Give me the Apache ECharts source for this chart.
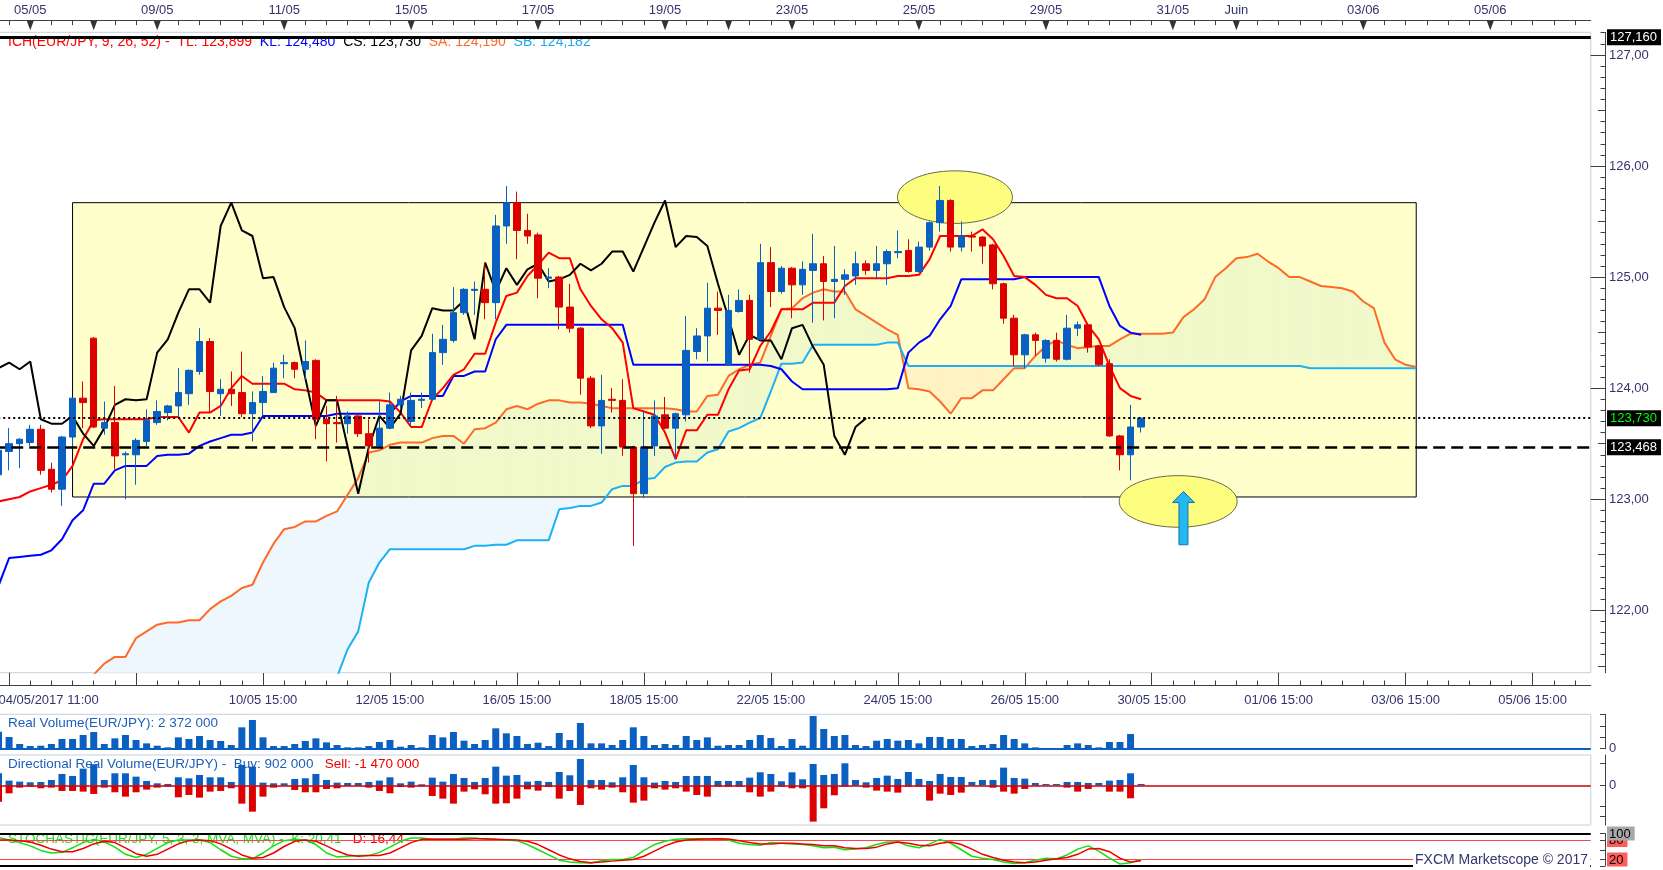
<!DOCTYPE html>
<html><head><meta charset="utf-8">
<script src="https://cdn.jsdelivr.net/npm/echarts@6/dist/echarts.min.js"></script>
<style>html,body{margin:0;padding:0;background:#fff}#c{width:1663px;height:870px}</style>
</head><body><div id="c"></div><script>
// ---------------- DATA ----------------
const opens = [123.22,123.43,123.50,123.51,123.63,123.27,123.09,123.56,123.91,124.45,
 123.64,123.69,123.40,123.40,123.52,123.69,123.78,123.84,123.95,124.15,
 124.42,123.95,123.99,123.96,123.77,123.87,123.96,124.22,124.23,124.17,
 124.25,123.72,123.69,123.68,123.75,123.59,123.48,123.64,123.85,123.70,
 123.89,123.90,124.32,124.43,124.68,124.88,124.89,124.77,125.46,125.67,
 125.42,125.38,124.99,125.00,124.73,124.54,124.09,123.66,123.90,123.89,
 123.47,123.05,123.48,123.76,123.64,123.76,124.33,124.47,124.72,124.21,
 124.69,124.79,124.44,125.13,124.87,125.08,124.93,125.06,125.12,124.96,
 124.98,125.01,125.12,125.06,125.12,125.22,125.24,125.05,125.27,125.49,
 125.69,125.27,125.37,125.36,125.29,124.94,124.63,124.30,124.48,124.27,
 124.43,124.26,124.54,124.57,124.38,124.22,123.57,123.40,123.65];
const closes = [123.44,123.50,123.54,123.63,123.26,123.09,123.56,123.91,123.87,123.65,
 123.69,123.39,123.41,123.53,123.71,123.79,123.84,123.96,124.16,124.42,
 123.97,123.99,123.95,123.77,123.87,123.97,124.18,124.23,124.17,124.24,
 123.72,123.68,123.68,123.75,123.59,123.48,123.64,123.85,123.90,123.89,
 123.90,124.32,124.44,124.68,124.89,124.89,124.77,125.46,125.67,125.42,
 125.37,124.99,125.00,124.73,124.54,124.09,123.66,123.89,123.89,123.47,
 123.05,123.47,123.75,123.64,123.77,124.34,124.47,124.72,124.70,124.70,
 124.79,124.44,125.13,124.87,125.08,124.93,125.07,125.12,124.96,124.98,
 125.02,125.12,125.06,125.12,125.23,125.23,125.05,125.27,125.49,125.69,
 125.27,125.37,125.36,125.28,124.94,124.63,124.30,124.48,124.43,124.43,
 124.26,124.54,124.57,124.37,124.21,123.57,123.40,123.65,123.73];
const lows = [123.21,123.26,123.28,123.48,123.22,123.06,122.94,123.48,123.64,123.64,
 123.58,123.27,123.00,123.13,123.48,123.67,123.71,123.74,123.85,124.12,
 123.78,123.75,123.84,123.74,123.52,123.75,123.96,124.09,124.09,124.08,
 123.54,123.34,123.51,123.59,123.56,123.33,123.46,123.63,123.81,123.66,
 123.82,123.89,124.21,124.41,124.66,124.66,124.62,124.62,125.30,125.16,
 125.30,124.81,124.90,124.53,124.50,123.94,123.64,123.41,123.78,123.39,
 122.58,123.01,123.39,123.63,123.36,123.70,124.26,124.24,124.48,124.20,
 124.68,124.14,124.43,124.73,124.85,124.63,124.84,124.59,124.61,124.63,
 124.84,124.93,125.02,124.98,124.93,125.17,125.04,125.04,125.24,125.41,
 125.23,125.23,125.23,125.12,124.89,124.58,124.20,124.18,124.29,124.23,
 124.24,124.25,124.47,124.32,124.20,123.56,123.26,123.17,123.60];
const highs = [123.48,123.64,123.55,123.67,123.67,123.33,123.57,123.92,124.06,124.46,
 123.88,124.02,123.43,123.55,123.81,123.89,123.85,124.18,124.17,124.54,
 124.45,124.08,124.15,124.33,123.97,124.11,124.23,124.30,124.24,124.43,
 124.26,123.84,123.93,123.79,123.77,123.72,123.88,123.96,123.93,123.96,
 123.96,124.49,124.57,124.91,124.90,124.96,125.13,125.56,125.82,125.77,
 125.57,125.40,125.08,125.01,124.94,124.55,124.11,124.12,124.00,124.08,
 123.48,123.79,123.89,123.92,123.78,124.65,124.54,124.95,124.87,124.84,
 124.89,124.84,125.30,125.27,125.10,125.09,125.14,125.39,125.19,125.28,
 125.07,125.23,125.15,125.28,125.25,125.42,125.34,125.32,125.50,125.82,
 125.70,125.50,125.41,125.37,125.30,124.95,124.66,124.49,124.50,124.44,
 124.50,124.66,124.60,124.58,124.39,124.26,123.58,123.85,123.74];
const tenkan = [122.98,123.00,123.02,123.07,123.10,123.13,123.17,123.30,123.54,123.71,
 123.72,123.72,123.72,123.72,123.72,123.74,123.74,123.74,123.60,123.78,
 123.78,123.84,124.00,124.11,124.04,124.04,124.04,124.04,123.99,123.98,
 123.96,123.89,123.89,123.89,123.89,123.89,123.89,123.88,123.78,123.65,
 123.65,123.90,124.00,124.12,124.17,124.31,124.31,124.59,124.83,124.86,
 125.01,125.11,125.22,125.17,125.17,124.89,124.74,124.62,124.54,124.41,
 123.82,123.79,123.76,123.60,123.36,123.62,123.62,123.76,123.76,123.99,
 124.16,124.17,124.38,124.51,124.71,124.71,124.71,124.77,124.77,124.77,
 124.92,124.99,124.99,124.99,124.99,125.01,125.01,125.02,125.16,125.37,
 125.37,125.37,125.37,125.43,125.34,125.19,125.01,125.00,124.93,124.84,
 124.81,124.81,124.74,124.56,124.44,124.20,124.00,123.93,123.90];
const kijun = [122.22,122.47,122.48,122.49,122.50,122.54,122.64,122.81,122.90,123.14,
 123.14,123.26,123.30,123.30,123.30,123.39,123.40,123.40,123.41,123.48,
 123.52,123.55,123.58,123.58,123.60,123.75,123.75,123.75,123.75,123.75,
 123.75,123.75,123.77,123.77,123.77,123.77,123.77,123.77,123.88,123.93,
 123.93,123.93,123.93,124.11,124.11,124.15,124.15,124.44,124.57,124.57,
 124.57,124.57,124.57,124.57,124.57,124.57,124.57,124.57,124.57,124.57,
 124.21,124.21,124.21,124.21,124.21,124.21,124.21,124.21,124.21,124.21,
 124.21,124.21,124.21,124.20,124.17,124.06,123.99,123.99,123.99,123.99,
 123.99,123.99,123.99,123.99,123.99,124.00,124.32,124.41,124.47,124.62,
 124.74,124.98,124.98,124.98,124.98,124.98,124.98,125.00,125.00,125.00,
 125.00,125.00,125.00,125.00,125.00,124.74,124.56,124.50,124.48];
const senkouA = [null,null,null,null,null,null,null,null,null,121.42,
 121.52,121.58,121.58,121.75,121.81,121.87,121.89,121.89,121.91,121.91,
 122.01,122.08,122.13,122.20,122.23,122.43,122.60,122.73,122.75,122.80,
 122.80,122.85,122.89,123.04,123.19,123.42,123.44,123.49,123.51,123.51,
 123.51,123.55,123.57,123.57,123.50,123.63,123.64,123.69,123.81,123.84,
 123.81,123.86,123.89,123.89,123.87,123.87,123.86,123.84,123.82,123.82,
 123.82,123.82,123.82,123.82,123.81,123.79,123.79,123.93,123.94,124.11,
 124.17,124.21,124.23,124.47,124.71,124.72,124.81,124.86,124.89,124.87,
 124.87,124.71,124.65,124.59,124.53,124.48,124.00,123.99,123.97,123.88,
 123.77,123.91,123.91,123.98,123.98,124.08,124.18,124.18,124.29,124.38,
 124.43,124.39,124.36,124.37,124.38,124.38,124.44,124.49,124.49,124.49,
 124.49,124.50,124.64,124.71,124.80,125.00,125.08,125.17,125.18,125.21,
 125.14,125.08,125.00,125.00,124.96,124.92,124.91,124.90,124.87,124.78,
 124.72,124.41,124.26,124.21,124.19];
const senkouB = [null,null,null,null,null,null,null,null,null,null,
 null,null,null,null,null,null,null,null,null,null,
 null,null,null,null,null,null,null,null,null,null,
 null,121.10,121.40,121.65,121.81,122.25,122.43,122.55,122.55,122.55,
 122.55,122.55,122.55,122.55,122.55,122.58,122.58,122.59,122.59,122.63,
 122.63,122.63,122.63,122.91,122.92,122.94,122.94,122.97,123.09,123.12,
 123.12,123.18,123.19,123.29,123.33,123.34,123.34,123.42,123.45,123.61,
 123.64,123.69,123.73,123.97,124.22,124.22,124.23,124.39,124.39,124.39,
 124.39,124.39,124.39,124.39,124.41,124.41,124.20,124.20,124.20,124.20,
 124.20,124.20,124.20,124.20,124.20,124.20,124.20,124.20,124.20,124.20,
 124.20,124.20,124.20,124.20,124.20,124.20,124.20,124.20,124.20,124.20,
 124.20,124.20,124.20,124.20,124.20,124.20,124.20,124.20,124.20,124.20,
 124.20,124.20,124.20,124.20,124.18,124.18,124.18,124.18,124.18,124.18,
 124.18,124.18,124.18,124.18,124.18];
const volume = [2754,1890,756,432,486,756,1566,1566,2214,2700,
 756,1674,2214,1404,864,486,216,1836,1566,2052,
 1404,1242,594,3456,4644,1836,432,432,756,1242,
 1674,1026,594,216,216,432,1080,1404,324,594,
 216,2214,1836,2700,1296,756,1404,3294,2484,2052,
 756,972,432,2538,1404,4158,864,864,594,1404,
 3456,2052,594,756,594,2052,1404,1836,486,594,
 594,1404,2214,1728,432,1566,486,5292,3186,2052,
 2214,594,432,1296,1566,1296,1404,864,1890,1890,
 1566,1566,432,594,756,2214,1566,864,216,0,
 0,594,864,594,216,1080,1080,2372,0];
const buyVol = [900,350,275,225,250,400,850,700,1250,1575,
 400,900,900,650,325,150,100,600,525,775,
 600,600,250,1525,1400,200,150,150,475,525,
 850,400,200,175,175,250,350,600,150,275,
 75,575,275,850,550,250,550,1400,725,775,
 275,325,250,1000,750,1975,400,400,225,600,
 1525,600,200,325,250,700,700,700,325,325,
 325,575,975,850,300,975,450,1600,775,850,
 1650,400,225,550,725,475,1000,475,325,850,
 625,625,250,400,400,1325,550,500,175,100,
 100,250,250,175,175,350,400,900,100];
const sellVol = [-1225,-600,-175,-100,-225,-175,-425,-425,-475,-650,
 -175,-525,-850,-525,-325,-175,-100,-900,-725,-925,
 -475,-425,-225,-1375,-1975,-850,-175,-25,-350,-525,
 -525,-275,-225,-50,-50,-175,-425,-600,-125,-175,
 -75,-800,-1000,-1375,-475,-300,-675,-1375,-1350,-1000,
 -300,-400,-125,-1000,-425,-1475,-225,-325,-175,-525,
 -1300,-1150,-225,-325,-225,-475,-725,-850,-100,-100,
 -100,-525,-850,-475,-100,-225,-225,-2725,-1725,-750,
 -100,-25,-175,-400,-475,-550,-100,-100,-1150,-625,
 -725,-550,-25,-25,-175,-475,-625,-275,-25,0,
 0,-175,-475,-275,-25,-475,-475,-975,0];
const stochK = [88,80,72,62,48,40,42,56,72,82,
 74,58,36,26,36,54,72,80,80,80,
 72,50,30,22,22,40,62,78,82,80,
 66,40,28,30,32,32,42,58,76,86,
 86,82,82,82,86,86,82,82,80,78,
 66,50,34,18,12,10,9,16,20,20,
 26,48,66,76,82,84,84,84,84,80,
 70,66,64,72,70,68,66,62,56,58,
 50,52,56,66,74,74,62,56,68,82,
 70,50,30,24,20,12,8,10,18,24,
 22,34,52,62,46,24,6,10,20.41];
const stochD = [80,80,78,74,64,52,44,44,54,68,
 76,72,56,38,30,36,52,68,78,80,
 78,68,52,34,24,26,40,60,76,80,
 76,62,46,34,30,32,32,40,56,72,
 82,82,82,82,82,84,84,82,81,80,
 76,66,50,34,22,14,10,12,15,18,
 20,30,46,62,74,80,82,83,84,83,
 78,72,68,68,70,70,68,66,62,62,
 56,54,54,58,68,74,70,64,62,70,
 74,66,52,36,26,18,12,10,12,18,
 22,26,36,52,54,44,24,12,16.44];
const bottomLabels = {0:'04/05/2017 11:00',25:'10/05 15:00',37:'12/05 15:00',49:'16/05 15:00',61:'18/05 15:00',73:'22/05 15:00',85:'24/05 15:00',97:'26/05 15:00',109:'30/05 15:00',121:'01/06 15:00',133:'03/06 15:00',145:'05/06 15:00'};
const topLabels = {3:'05/05',15:'09/05',27:'11/05',39:'15/05',51:'17/05',63:'19/05',75:'23/05',87:'25/05',99:'29/05',111:'31/05',117:'Juin',129:'03/06',141:'05/06'};
const dayMarks = [3,9,15,27,39,51,63,69,75,87,99,111,117,129,141];
const priceTicks = [122,123,124,125,126,127];
const halfTicks = [121.5,122.5,123.5,124.5,125.5,126.5];
const priceTags = [{v:127.16, s:'w'},{v:123.73, s:'g'},{v:123.468, s:'w'}];
const box = {from:7, to:134, low:123.02, high:125.67};
const circles = [{i:90.4, p:125.72, rx:57.5, ry:26.3},{i:111.5, p:122.98, rx:59, ry:25.8}];
const arrowMark = {i:112, tip:123.07, base:122.97, tail:122.59};
const SHIFT = 26;

// ---------------- STYLE / LAYOUT ----------------
const FONT = '"Liberation Sans", Arial, sans-serif';
const AX = '#34346e';
const UP = '#0a5fc2', DOWN = '#dd0000';
const Y_MIN = 121.438, Y_MAX = 127.204;
const NCAT = 151;
const cats = []; for (let i = 0; i < NCAT; i++) cats.push(String(i));
const tenths = []; for (let k = 1215; k <= 1272; k++) tenths.push(k / 10);
const GL = -6.79, GW = 1597.58;

const candleData = opens.map((o, i) => [o, closes[i], lows[i], highs[i]]);
const chikou = closes.slice(SHIFT);

const BULL_CLOUD = '#eef7fd', BEAR_CLOUD = '#fff0f5';
function cloudItem(params, api) {
  const i = api.value(0);
  const a0 = senkouA[i], a1 = senkouA[i + 1];
  if (a0 == null || a1 == null) return null;
  const b0 = senkouB[i] == null ? Y_MIN : senkouB[i];
  const b1 = senkouB[i + 1] == null ? Y_MIN : senkouB[i + 1];
  const pa0 = api.coord([i, a0]), pa1 = api.coord([i + 1, a1]);
  const pb0 = api.coord([i, b0]), pb1 = api.coord([i + 1, b1]);
  const d0 = a0 - b0, d1 = a1 - b1;
  const col = d => d >= 0 ? BULL_CLOUD : BEAR_CLOUD;
  const cs = params.coordSys;
  let children;
  if (d0 * d1 < 0) {
    const t = d0 / (d0 - d1);
    const X = [pa0[0] + (pa1[0] - pa0[0]) * t, pa0[1] + (pa1[1] - pa0[1]) * t];
    children = [
      {type:'polygon', shape:{points:[pa0, X, pb0]}, style:{fill:col(d0), stroke:col(d0), lineWidth:0.6}},
      {type:'polygon', shape:{points:[X, pa1, pb1]}, style:{fill:col(d1), stroke:col(d1), lineWidth:0.6}}
    ];
  } else {
    const c = col(d0 + d1);
    children = [{type:'polygon', shape:{points:[pa0, pa1, pb1, pb0]}, style:{fill:c, stroke:c, lineWidth:0.6}}];
  }
  return {type:'group', children, clipPath:{type:'rect', shape:{x:cs.x, y:cs.y, width:cs.width, height:cs.height}}};
}
const cloudSegs = []; for (let i = 0; i < senkouA.length - 1; i++) cloudSegs.push([i, Y_MIN]);

function hiddenX(g) { return {gridIndex:g, type:'category', data:cats, show:false}; }
function priceY(extra) {
  return Object.assign({gridIndex:0, type:'value', position:'right', offset:14.2, min:Y_MIN, max:Y_MAX,
    splitLine:{show:false}, axisLine:{show:false}, axisLabel:{show:false}, axisTick:{show:false}}, extra);
}
const lbl = {color:AX, fontSize:13, fontFamily:FONT};
const gridBase = {left:GL, width:GW, outerBoundsMode:'none', containLabel:false};

const option = {
  animation:false,
  backgroundColor:'#fff',
  textStyle:{fontFamily:FONT},
  title:[
    {left:8, top:35, padding:0, z:1, text:'{r|ICH(EUR/JPY, 9, 26, 52) -  TL: 123,899}  {b|KL: 124,480}  {k|CS: 123,730}  {o|SA: 124,190}  {c|SB: 124,182}',
     textStyle:{fontSize:14, fontFamily:FONT, fontWeight:'normal', rich:{r:{color:'#ff0000', fontSize:14}, b:{color:'#0000ff', fontSize:14}, k:{color:'#000', fontSize:14}, o:{color:'#ff6a28', fontSize:14}, c:{color:'#1eaaf0', fontSize:14}}}},
    {left:8, top:716, padding:0, z:1, text:'Real Volume(EUR/JPY): 2 372 000', textStyle:{fontSize:13.5, fontFamily:FONT, fontWeight:'normal', color:'#1d5fb8'}},
    {left:8, top:757.5, padding:0, z:1, text:'{b|Directional Real Volume(EUR/JPY) -  Buy: 902 000}   {r|Sell: -1 470 000}',
     textStyle:{fontSize:13.5, fontFamily:FONT, fontWeight:'normal', rich:{b:{color:'#1d5fb8', fontSize:13.5}, r:{color:'#ee0000', fontSize:13.5}}}},
    {left:8, top:832.5, padding:0, z:1, text:'{g|STOCHASTIC(EUR/JPY, 5, 3, 3, MVA, MVA) -  K: 20,41}   {r|D: 16,44}',
     textStyle:{fontSize:13.5, fontFamily:FONT, fontWeight:'normal', rich:{g:{color:'#22dd22', fontSize:13.5}, r:{color:'#ee0000', fontSize:13.5}}}},
    {right:73, top:852, padding:[1,2,1,2], backgroundColor:'#fff', z:10, text:'FXCM Marketscope © 2017', textStyle:{fontSize:14, fontFamily:FONT, fontWeight:'normal', color:AX}}
  ],
  grid:[
    Object.assign({top:32.3, height:640.4, show:true, borderColor:'#c5d0de', borderWidth:1, backgroundColor:'transparent'}, gridBase),
    Object.assign({top:714.3, height:34.4, show:true, borderColor:'#c5d0de', borderWidth:1}, gridBase),
    Object.assign({top:755, height:70, show:true, borderColor:'#c5d0de', borderWidth:1}, gridBase),
    Object.assign({top:833.5, height:32.5, show:false}, gridBase)
  ],
  xAxis:[
    {gridIndex:0, type:'category', data:cats, position:'bottom', offset:12.3,
     axisLine:{show:true, lineStyle:{color:'#404040'}},
     axisTick:{show:true, inside:true, length:12.3, alignWithLabel:true, interval:(i)=> i >= 1 && (i - 1) % 12 === 0, lineStyle:{color:'#404040'}},
     axisLabel:Object.assign({show:true, interval:(i)=> bottomLabels[i] !== undefined, formatter:(v, i)=> bottomLabels[i] || '', margin:9, alignMinLabel:'left'}, lbl),
     splitLine:{show:false}},
    {gridIndex:0, type:'category', data:cats, position:'top', offset:11.6,
     axisLine:{show:true, lineStyle:{color:'#404040'}},
     axisTick:{show:true, inside:true, length:4.5, alignWithLabel:true, interval:(i)=> i % 2 === 1, lineStyle:{color:'#404040'}},
     axisLabel:Object.assign({show:true, interval:(i)=> topLabels[i] !== undefined, formatter:(v, i)=> topLabels[i] || '', margin:4}, lbl),
     splitLine:{show:false}},
    {gridIndex:0, type:'category', data:cats, position:'bottom', offset:12.3,
     axisLine:{show:false}, axisLabel:{show:false}, splitLine:{show:false},
     axisTick:{show:true, inside:true, length:4.5, alignWithLabel:true, interval:(i)=> i % 2 === 1, lineStyle:{color:'#404040'}}},
    hiddenX(1), hiddenX(2), hiddenX(3)
  ],
  yAxis:[
    priceY({axisLine:{show:true, lineStyle:{color:'#404040'}},
      axisTick:{show:true, inside:true, length:14.5, customValues:priceTicks, lineStyle:{color:'#404040'}},
      axisLabel:Object.assign({show:true, customValues:priceTicks, formatter:v=> v.toFixed(2).replace('.', ','), margin:4}, lbl)}),
    priceY({axisTick:{show:true, inside:true, length:7, customValues:halfTicks, lineStyle:{color:'#404040'}}}),
    priceY({axisTick:{show:true, inside:true, length:4.5, customValues:tenths, lineStyle:{color:'#404040'}}}),
    priceY({axisLabel:{show:true, customValues:priceTags.map(t=>t.v), margin:2, fontFamily:FONT, fontSize:13,
      formatter:v=>{ const t = priceTags.find(p=>Math.abs(p.v - v) < 1e-6); return '{' + (t ? t.s : 'w') + '|' + v.toFixed(3).replace('.', ',') + '}'; },
      rich:{w:{color:'#fff', backgroundColor:'#000', padding:[2,4,1,3], fontSize:13, fontFamily:FONT}, g:{color:'#00ff00', backgroundColor:'#000', padding:[2,4,1,3], fontSize:13, fontFamily:FONT}}}}),
    {gridIndex:1, type:'value', position:'right', offset:14.2, min:0, max:5562, splitLine:{show:false},
     axisLine:{show:true, lineStyle:{color:'#404040'}},
     axisTick:{show:true, inside:true, length:5, customValues:[0,1836,3672,5508], lineStyle:{color:'#404040'}},
     axisLabel:Object.assign({customValues:[0], formatter:v=>String(v), margin:4}, lbl)},
    {gridIndex:2, type:'value', position:'right', offset:14.2, min:-2977, max:2272, splitLine:{show:false},
     axisLine:{show:true, lineStyle:{color:'#404040'}},
     axisTick:{show:true, inside:true, length:5, customValues:[1650,0,-1550,-2300], lineStyle:{color:'#404040'}},
     axisLabel:Object.assign({customValues:[0], formatter:v=>String(v), margin:4}, lbl)},
    {gridIndex:3, type:'value', position:'right', offset:14.2, min:0, max:100, splitLine:{show:false},
     axisLine:{show:true, lineStyle:{color:'#404040'}},
     axisTick:{show:true, inside:true, length:5, customValues:[100,80,50,20,0], lineStyle:{color:'#404040'}},
     axisLabel:{customValues:[80,20,100], margin:2, fontFamily:FONT, fontSize:13,
       formatter:v=> v === 100 ? '{h|100}' : '{l|' + v + '}',
       rich:{h:{color:'#000', backgroundColor:'#a8a8a8', padding:[1,4,0,2], fontSize:13, fontFamily:FONT}, l:{color:'#000', backgroundColor:'#ff5c5c', padding:[1,4,0,2], fontSize:13, fontFamily:FONT}}}}
  ],
  series:[
    {type:'custom', name:'cloud', xAxisIndex:0, yAxisIndex:0, z:1, silent:true, data:cloudSegs, encode:{x:0, y:1}, renderItem:cloudItem},
    {type:'custom', name:'box', xAxisIndex:0, yAxisIndex:0, z:2, silent:true,
     data:[[box.from, box.low, box.to, box.high]], encode:{x:[0,2], y:[1,3]},
     renderItem:(params, api)=>{
       const p0 = api.coord([api.value(0), api.value(3)]), p1 = api.coord([api.value(2), api.value(1)]);
       return {type:'rect', shape:{x:p0[0], y:p0[1], width:p1[0]-p0[0], height:p1[1]-p0[1]}, style:{fill:'rgba(255,255,0,0.2)', stroke:'#000', lineWidth:1}};
     }},
    {type:'line', name:'SA', xAxisIndex:0, yAxisIndex:0, z:3, data:senkouA, showSymbol:false, symbol:'none', lineStyle:{color:'#ff6a28', width:2}, silent:true},
    {type:'line', name:'SB', xAxisIndex:0, yAxisIndex:0, z:3, data:senkouB, showSymbol:false, symbol:'none', lineStyle:{color:'#1eb0f4', width:2}, silent:true},
    {type:'line', name:'KL', xAxisIndex:0, yAxisIndex:0, z:3, data:kijun, showSymbol:false, symbol:'none', lineStyle:{color:'#0000ff', width:2}, silent:true},
    {type:'line', name:'TL', xAxisIndex:0, yAxisIndex:0, z:3, data:tenkan, showSymbol:false, symbol:'none', lineStyle:{color:'#ff0000', width:2}, silent:true},
    {type:'line', name:'CS', xAxisIndex:0, yAxisIndex:0, z:3, data:chikou, showSymbol:false, symbol:'none', lineStyle:{color:'#000', width:2}, silent:true},
    {type:'candlestick', name:'EUR/JPY', xAxisIndex:0, yAxisIndex:0, z:5, barWidth:7, data:candleData,
     itemStyle:{color:UP, color0:DOWN, borderColor:UP, borderColor0:DOWN, borderWidth:1}},
    {type:'line', name:'levels', xAxisIndex:0, yAxisIndex:0, z:6, data:[], silent:true,
     markLine:{silent:true, symbol:['none','none'], label:{show:false}, z:6, data:[
       {yAxis:127.16, lineStyle:{color:'#000', width:3, type:'solid'}},
       {yAxis:123.73, lineStyle:{color:'#000', width:2, type:[2,3]}},
       {yAxis:123.468, lineStyle:{color:'#000', width:2.5, type:[12,6]}}
     ]}},
    {type:'custom', name:'dayMarks', xAxisIndex:0, yAxisIndex:0, z:6, silent:true, data:dayMarks.map(i=>[i, Y_MAX]), encode:{x:0, y:1},
     renderItem:(params, api)=>{
       const x = api.coord([api.value(0), Y_MAX])[0]; const top = params.coordSys.y - 11.6;
       return {type:'polygon', shape:{points:[[x-3.5, top], [x+3.5, top], [x, top+9.5]]}, style:{fill:'#333'}};
     }},
    {type:'bar', name:'Volume', xAxisIndex:3, yAxisIndex:4, barWidth:7, data:volume, itemStyle:{color:'#0b5fc1'},
     markLine:{silent:true, symbol:['none','none'], label:{show:false}, data:[{yAxis:0, lineStyle:{color:'#0b5fc1', width:2, type:'solid'}}]}},
    {type:'bar', name:'Buy', xAxisIndex:4, yAxisIndex:5, barWidth:7, barGap:'-100%', data:buyVol, itemStyle:{color:'#0b5fc1'}},
    {type:'bar', name:'Sell', xAxisIndex:4, yAxisIndex:5, barWidth:7, barGap:'-100%', data:sellVol, itemStyle:{color:'#dd0000'},
     markLine:{silent:true, symbol:['none','none'], label:{show:false}, data:[{yAxis:0, lineStyle:{color:'#cc0000', width:1.5, type:'solid'}}]}},
    {type:'line', name:'K', xAxisIndex:5, yAxisIndex:6, data:stochK, showSymbol:false, symbol:'none', lineStyle:{color:'#10e010', width:1.5}, z:4,
     markLine:{silent:true, symbol:['none','none'], label:{show:false}, z:3, data:[
       {yAxis:100, lineStyle:{color:'#000', width:2, type:'solid'}},
       {yAxis:0, lineStyle:{color:'#000', width:2, type:'solid'}},
       {yAxis:80, lineStyle:{color:'#ff4444', width:1, type:'solid'}},
       {yAxis:20, lineStyle:{color:'#ff4444', width:1, type:'solid'}}
     ]}},
    {type:'line', name:'D', xAxisIndex:5, yAxisIndex:6, data:stochD, showSymbol:false, symbol:'none', lineStyle:{color:'#ee0000', width:1.5}, z:4}
  ]
};

const chart = echarts.init(document.getElementById('c'), null, {renderer:'canvas', width:1663, height:870});
chart.setOption(option);

function toPx(i, p) {
  const i0 = Math.floor(i), f = i - i0;
  const a = chart.convertToPixel({xAxisIndex:0, yAxisIndex:0}, [i0, p]);
  const b = chart.convertToPixel({xAxisIndex:0, yAxisIndex:0}, [i0 + 1, p]);
  return [a[0] + (b[0] - a[0]) * f, a[1]];
}
const graphics = circles.map(c => {
  const ctr = toPx(c.i, c.p);
  return {type:'ellipse', z:3, silent:true, shape:{cx:ctr[0], cy:ctr[1], rx:c.rx, ry:c.ry}, style:{fill:'#fdfd80', stroke:'#6b6b4a', lineWidth:1}};
});
const tip = toPx(arrowMark.i, arrowMark.tip), base = toPx(arrowMark.i, arrowMark.base), tail = toPx(arrowMark.i, arrowMark.tail);
const ax = tip[0];
graphics.push({type:'polygon', z:7, silent:true, shape:{points:[[ax-4.5, tail[1]], [ax-4.5, base[1]], [ax-11, base[1]], [ax, tip[1]], [ax+11, base[1]], [ax+4.5, base[1]], [ax+4.5, tail[1]]]},
  style:{fill:'#22b8f0', stroke:'#1a70b0', lineWidth:1}});
chart.setOption({graphic:graphics});
</script></body></html>
